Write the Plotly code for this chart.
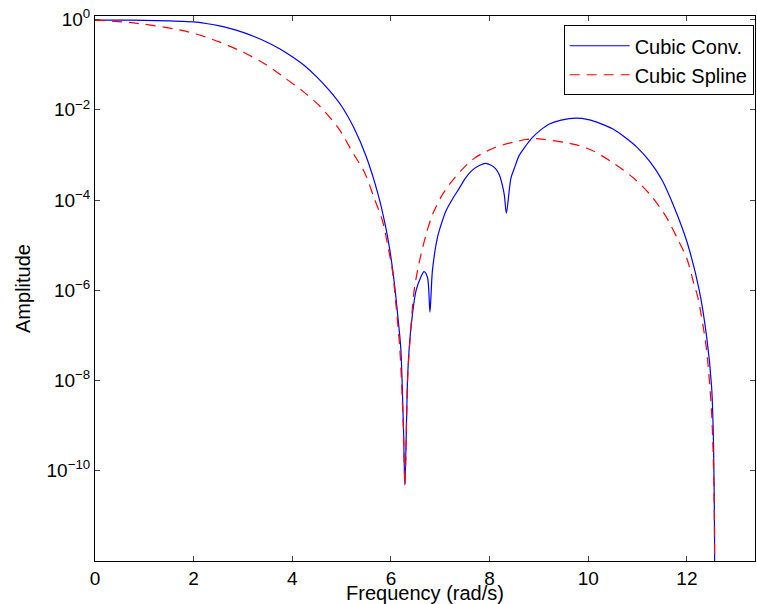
import plotly.graph_objects as go

# Cubic convolution response
conv_freq = [0, 0.5, 1.0, 1.5, 1.75, 2.0, 2.25, 2.5, 2.75, 3.0, 3.25, 3.5, 3.75, 4.0, 4.25, 4.5,
             4.75, 5.0, 5.25, 5.5, 5.75, 5.88, 5.97, 6.07, 6.14, 6.20, 6.25, 6.283, 6.34, 6.40,
             6.51, 6.60, 6.67, 6.74, 6.79, 6.84, 6.94, 7.0, 7.11, 7.25, 7.38, 7.5, 7.65, 7.8, 7.92,
             8.02, 8.12, 8.2, 8.26, 8.30, 8.34, 8.43, 8.5, 8.60, 8.73, 8.87, 9.03, 9.20, 9.45, 9.75,
             10.0, 10.25, 10.5, 10.75, 11.0, 11.25, 11.5, 11.75, 12.0, 12.25, 12.4, 12.5, 12.54,
             12.56, 12.566]
conv_amp = [0.977, 0.975, 0.966, 0.937, 0.918, 0.891, 0.821, 0.735, 0.631, 0.521, 0.411, 0.311,
            0.224, 0.150, 0.0951, 0.0532, 0.0269, 0.0120, 3.95e-3, 9.14e-4, 1.21e-4, 2.95e-5, 8.7e-6,
            1.4e-6, 2.6e-7, 5.0e-8, 1.2e-9, 4.8e-11, 1.4e-8, 1.3e-7, 1.0e-6, 1.9e-6, 2.6e-6, 1.95e-6,
            3.3e-7, 2.7e-6, 1.45e-5, 2.5e-5, 5.6e-5, 1.07e-4, 1.8e-4, 2.95e-4, 4.6e-4, 5.9e-4, 6.5e-4,
            6.0e-4, 5.0e-4, 3.55e-4, 2.1e-4, 1.26e-4, 5.1e-5, 3.0e-4, 5.0e-4, 9.8e-4, 1.58e-3, 2.45e-3,
            3.55e-3, 4.8e-3, 5.9e-3, 6.54e-3, 6.07e-3, 4.95e-3, 3.76e-3, 2.44e-3, 1.44e-3, 7.1e-4,
            2.72e-4, 6.6e-5, 1.19e-5, 1.0e-6, 9.3e-8, 7.4e-9, 3.6e-10, 3.3e-12, 1e-14]

# Cubic spline response
spl_freq = [0, 0.57, 1.0, 1.58, 2.05, 2.52, 3.0, 3.47, 3.87, 4.21, 4.55, 4.95, 5.22, 5.46,
            5.66, 5.83, 5.93, 6.03, 6.10, 6.18, 6.25, 6.283, 6.34, 6.40, 6.47, 6.57,
            6.71, 6.84, 7.04, 7.31, 7.68, 8.12, 8.73, 8.95, 9.13, 9.51, 9.74, 10.08,
            10.52, 10.93, 11.26, 11.57, 11.80, 12.0, 12.14, 12.22, 12.39, 12.5, 12.55, 12.566]
spl_amp = [0.977, 0.89, 0.79, 0.63, 0.48, 0.32, 0.19, 0.10, 0.049, 0.026, 0.0123, 3.7e-3, 1.15e-3, 4.2e-4,
           1.1e-4, 3.4e-5, 1.05e-5, 2.7e-6, 5.0e-7, 5.0e-8, 1.0e-9, 4.8e-11, 1.26e-8, 1.3e-7, 1.0e-6, 4.0e-6,
           1.7e-5, 4.7e-5, 1.3e-4, 3.3e-4, 8.3e-4, 1.48e-3, 2.2e-3, 2.3e-3, 2.2e-3, 1.9e-3, 1.7e-3, 1.26e-3,
           6.5e-4, 3.0e-4, 1.3e-4, 4.4e-5, 1.45e-5, 5.0e-6, 1.4e-6, 7.1e-7, 5.6e-8, 1.95e-9, 3.2e-11, 1e-14]

x_ticks = [0, 2, 4, 6, 8, 10, 12]
y_tick_vals = [1e-10, 1e-8, 1e-6, 1e-4, 1e-2, 1]
y_tick_text = ["10<sup>−10</sup>", "10<sup>−8</sup>", "10<sup>−6</sup>", "10<sup>−4</sup>",
               "10<sup>−2</sup>", "10<sup>0</sup>"]

FONT = "Liberation Sans, Arial, sans-serif"

fig = go.Figure()
fig.add_trace(go.Scatter(x=conv_freq, y=conv_amp, mode="lines", name="Cubic Conv.",
                         line=dict(color="#0000FF", width=1.2, shape="spline", smoothing=0.8)))
fig.add_trace(go.Scatter(x=spl_freq, y=spl_amp, mode="lines", name="Cubic Spline",
                         line=dict(color="#FF0000", width=1.2, dash="10px,7px", shape="spline", smoothing=0.8)))

fig.update_layout(
    width=757, height=604,
    margin=dict(l=95, r=1, t=16, b=38),
    paper_bgcolor="white", plot_bgcolor="white",
    font=dict(family=FONT, size=19, color="black"),
    showlegend=True,
    legend=dict(x=0.998, y=0.983, xanchor="right", yanchor="top",
                bgcolor="white", bordercolor="black", borderwidth=1,
                font=dict(size=20), tracegroupgap=0, itemwidth=60),
    xaxis=dict(range=[0, 13.38], tickvals=x_ticks, ticks="inside", ticklen=5,
               showline=True, linecolor="black", linewidth=1, mirror="allticks",
               showgrid=False, zeroline=False,
               title=dict(text="Frequency (rad/s)", standoff=0, font=dict(size=20)),
               tickfont=dict(size=19)),
    yaxis=dict(type="log", range=[-12, 0.08], tickvals=y_tick_vals, ticktext=y_tick_text,
               ticks="inside", ticklen=5, showline=True, linecolor="black", linewidth=1,
               mirror="allticks", showgrid=False, zeroline=False,
               title=dict(text="Amplitude", standoff=10, font=dict(size=20)),
               tickfont=dict(size=19)),
)

fig.write_html("out.html")
